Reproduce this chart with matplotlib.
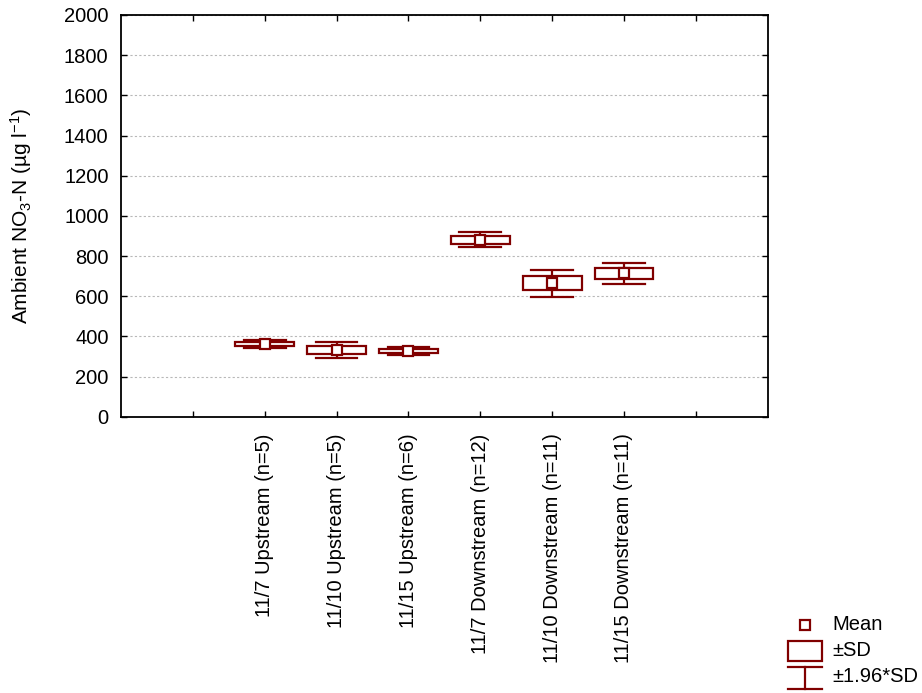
import matplotlib
matplotlib.use("Agg")
import matplotlib.pyplot as plt
from matplotlib.patches import Rectangle
from matplotlib.lines import Line2D

plt.rcParams['font.family'] = ['Liberation Sans', 'DejaVu Sans']
plt.rcParams['mathtext.fontset'] = 'custom'
plt.rcParams['mathtext.rm'] = 'Liberation Sans'
plt.rcParams['mathtext.it'] = 'Liberation Sans:italic'
plt.rcParams['mathtext.default'] = 'regular'

# Nitrate concentration by sampling date and site
categories = ["11/7 Upstream (n=5)", "11/10 Upstream (n=5)", "11/15 Upstream (n=6)",
              "11/7 Downstream (n=12)", "11/10 Downstream (n=11)", "11/15 Downstream (n=11)"]
means = [362, 332, 328, 881, 664, 713]
sds = [11, 20, 10, 19, 35, 26]
y_ticks = [0, 200, 400, 600, 800, 1000, 1200, 1400, 1600, 1800, 2000]

color = "#800000"
FS = 14.5
W, H = 922, 693
fig = plt.figure(figsize=(W / 100, H / 100), dpi=100)
ax = fig.add_axes([121 / W, 1 - 416.7 / H, (767.7 - 121) / W, (416.7 - 15) / H])

positions = list(range(1, len(categories) + 1))
box_w = 0.82
cap_w = 0.58
for x, m, s in zip(positions, means, sds):
    lo, hi = m - 1.96 * s, m + 1.96 * s
    ax.plot([x, x], [lo, m - s], color=color, lw=1.6, zorder=3, solid_capstyle='butt')
    ax.plot([x, x], [m + s, hi], color=color, lw=1.6, zorder=3, solid_capstyle='butt')
    ax.plot([x - cap_w / 2, x + cap_w / 2], [lo, lo], color=color, lw=1.6, zorder=3)
    ax.plot([x - cap_w / 2, x + cap_w / 2], [hi, hi], color=color, lw=1.6, zorder=3)
    ax.add_patch(Rectangle((x - box_w / 2, m - s), box_w, 2 * s, facecolor='white',
                           edgecolor=color, lw=1.6, zorder=4))
ax.plot(positions, means, linestyle='none', marker='s', markersize=6.5,
        markerfacecolor='white', markeredgecolor=color, markeredgewidth=1.6, zorder=5)

ax.set_xlim(-1, 8)
ax.set_ylim(0, 2000)
ax.set_yticks(y_ticks)
ax.set_yticklabels([str(v) for v in y_ticks], fontsize=FS)
ax.set_xticks(range(0, 8))
ax.set_xticklabels([""] + categories + [""], rotation=90, fontsize=FS)
ax.tick_params(axis='both', direction='in', top=True, right=True, length=4, width=1)
ax.tick_params(axis='x', pad=12)
ax.tick_params(axis='y', pad=9)
ax.yaxis.grid(True, linestyle=(0, (2, 2)), color='#b8b8b8', lw=0.8)
ax.set_axisbelow(True)
for sp in ax.spines.values():
    sp.set_linewidth(1.3)

ax.set_ylabel("Ambient NO$_3$-N (µg l$^{-1}$)", fontsize=15)
ax.yaxis.set_label_coords(-(121 - 34) / (767.7 - 121), 0.5)

# Legend drawn in figure pixel space
def fx(px):
    return px / W

def fy(py):
    return 1 - py / H

fig.add_artist(Line2D([fx(805)], [fy(625)], marker='s', markersize=6.5, markerfacecolor='white',
                      markeredgecolor=color, markeredgewidth=1.6, transform=fig.transFigure))
fig.add_artist(Rectangle((fx(788), fy(661)), fx(822) - fx(788), fy(641) - fy(661),
                         facecolor='white', edgecolor=color, lw=1.6, transform=fig.transFigure))
fig.add_artist(Line2D([fx(788), fx(822)], [fy(667), fy(667)], color=color, lw=1.6,
                      transform=fig.transFigure))
fig.add_artist(Line2D([fx(788), fx(822)], [fy(689), fy(689)], color=color, lw=1.6,
                      transform=fig.transFigure))
fig.add_artist(Line2D([fx(805), fx(805)], [fy(667), fy(689)], color=color, lw=1.6,
                      transform=fig.transFigure))
for label, py in [("Mean", 625), ("±SD", 651), ("±1.96*SD", 677)]:
    fig.text(fx(832), fy(py), label, fontsize=FS, va='center', ha='left')

fig.savefig("out.png", dpi=100)
